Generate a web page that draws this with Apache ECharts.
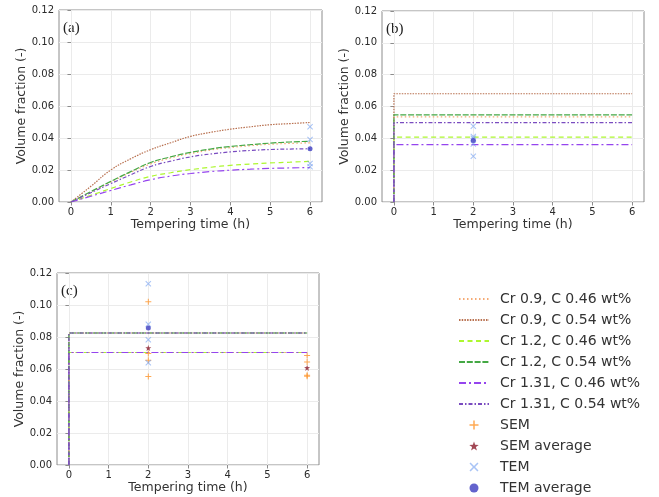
<!DOCTYPE html>
<html>
<head>
<meta charset="utf-8">
<script src="https://cdn.jsdelivr.net/npm/echarts@6/dist/echarts.min.js"></script>
<style>
    html, body { margin: 0; padding: 0; background: #fff; }
    #main { width: 659px; height: 497px; }
</style>
</head>
<body>
<div id="main"></div>
<script>
// names of the six alloys, legend order
let alloyNames = ['Cr 0.9, C 0.46 wt%', 'Cr 0.9, C 0.54 wt%', 'Cr 1.2, C 0.46 wt%',
    'Cr 1.2, C 0.54 wt%', 'Cr 1.31, C 0.46 wt%', 'Cr 1.31, C 0.54 wt%'];
let markerNames = ['SEM', 'SEM average', 'TEM', 'TEM average'];

// (a) curves, read every 0.5 h
let timeA = [0, 0.5, 1, 1.5, 2, 2.5, 3, 3.5, 4, 4.5, 5, 5.5, 6];
let cr09c046A = [0, 0.0062, 0.0125, 0.0185, 0.0238, 0.0275, 0.0302, 0.0325, 0.034, 0.0352, 0.0361, 0.0366, 0.037];
let cr09c054A = [0, 0.0098, 0.0200, 0.0270, 0.0327, 0.0370, 0.0410, 0.0435, 0.0455, 0.0470, 0.0483, 0.0490, 0.0497];
let cr12c046A = [0, 0.0042, 0.0084, 0.0125, 0.0160, 0.0183, 0.0202, 0.0217, 0.0229, 0.0237, 0.0244, 0.0249, 0.0254];
let cr12c054A = [0, 0.0065, 0.0129, 0.0190, 0.0247, 0.0282, 0.0310, 0.0331, 0.0347, 0.0358, 0.0368, 0.0375, 0.0380];
let cr131c046A = [0, 0.0036, 0.0072, 0.0107, 0.0139, 0.0162, 0.0178, 0.0190, 0.0199, 0.0205, 0.0210, 0.0213, 0.0215];
let cr131c054A = [0, 0.0058, 0.0115, 0.0170, 0.0222, 0.0255, 0.0282, 0.0300, 0.0313, 0.0322, 0.0328, 0.0331, 0.0333];

// (b) and (c) constant levels, same order as alloyNames
let levelsB = [0.0535, 0.0680, 0.0407, 0.0548, 0.0361, 0.0499];
let levelsC = [0.0703, 0.0825, 0.0703, 0.0825, 0.0703, 0.0825];

// measured points [time, fraction]
let temA = [[6, 0.047], [6, 0.039], [6, 0.024], [6, 0.022]];
let temAvgA = [[6, 0.0333]];
let temB = [[2, 0.0476], [2, 0.0411], [2, 0.0400], [2, 0.0365], [2, 0.0287]];
let temAvgB = [[2, 0.0386]];
let semC = [[2, 0.102], [2, 0.0697], [2, 0.0655], [2, 0.0553], [6, 0.0685], [6, 0.0643], [6, 0.0561], [6, 0.0555]];
let semAvgC = [[2, 0.0731], [6, 0.0607]];
let temC = [[2, 0.1133], [2, 0.088], [2, 0.0783], [2, 0.0639]];
let temAvgC = [[2, 0.0856]];

let xTicks = [0, 1, 2, 3, 4, 5, 6];
let panelLabels = ['(a)', '(b)', '(c)'];

let lineColors = ['#f5aa74', '#b8704f', '#adf72f', '#44a844', '#9544ee', '#7a4cc0'];
let lineDash = [[1.5, 2.5], [1.5, 1.2], [5, 3.5], [6, 1.8], [7, 3, 2, 3], [4, 2, 1.5, 2]];

let plusPath = 'path://M-1,-6H1V-1H6V1H1V6H-1V1H-6V-1H-1Z';
let crossPath = 'path://M-5.3,-4L-4,-5.3L0,-1.3L4,-5.3L5.3,-4L1.3,0L5.3,4L4,5.3L0,1.3L-4,5.3L-5.3,4L-1.3,0Z';
let starPath = 'path://M0,-10L2.35,-3.24L9.51,-3.09L3.8,1.24L5.88,8.09L0,4L-5.88,8.09L-3.8,1.24L-9.51,-3.09L-2.35,-3.24Z';

let grids = [
    {left: 59, top: 10, width: 263, height: 192},
    {left: 382, top: 11, width: 262, height: 191},
    {left: 57, top: 273, width: 262, height: 192}
];

let chart = echarts.init(document.getElementById('main'));

let xAxes = [], yAxes = [], series = [], graphics = [];
grids.forEach(function (g, i) {
    g.show = true;
    g.borderColor = '#8c8c8c';
    g.borderWidth = 1;
    g.backgroundColor = 'transparent';
    xAxes.push({
        type: 'value', gridIndex: i, min: -0.3, max: 6.3,
        name: 'Tempering time (h)', nameLocation: 'middle', nameGap: 15,
        nameTextStyle: {fontFamily: 'DejaVu Sans', fontSize: 12.5, color: '#333'},
        axisLine: {show: false},
        axisTick: {show: true, length: 3.5, customValues: xTicks, lineStyle: {color: '#8c8c8c'}},
        axisLabel: {customValues: xTicks, margin: 5, fontFamily: 'DejaVu Sans', fontSize: 10, color: '#2a2a2a'},
        splitLine: {show: true, lineStyle: {color: '#ebebeb', width: 1}}
    });
    yAxes.push({
        type: 'value', gridIndex: i, min: 0, max: 0.12, interval: 0.02,
        name: 'Volume fraction (-)', nameLocation: 'middle', nameGap: 30,
        nameTextStyle: {fontFamily: 'DejaVu Sans', fontSize: 12.5, color: '#333'},
        axisLine: {show: false},
        axisTick: {show: true, length: 3.5, lineStyle: {color: '#8c8c8c'}},
        axisLabel: {margin: 5, fontFamily: 'DejaVu Sans', fontSize: 10, color: '#2a2a2a',
            formatter: function (v) { return v.toFixed(2); }},
        splitLine: {show: true, lineStyle: {color: '#ebebeb', width: 1}}
    });
    graphics.push({
        type: 'text', left: g.left + 4, top: g.top + 11,
        style: {text: panelLabels[i], font: '15px "Liberation Serif"', fill: '#222'}
    });
});

let curvesA = [cr09c046A, cr09c054A, cr12c046A, cr12c054A, cr131c046A, cr131c054A];

function lineSeries(name, k, panel, data, smooth) {
    return {
        name: name, type: 'line', xAxisIndex: panel, yAxisIndex: panel,
        data: data, smooth: smooth, symbol: 'none', animation: false,
        lineStyle: {color: lineColors[k], width: 1.2, type: lineDash[k]},
        itemStyle: {color: lineColors[k]},
        z: 3
    };
}

alloyNames.forEach(function (name, k) {
    let dataA = timeA.map(function (t, j) { return [t, curvesA[k][j]]; });
    series.push(lineSeries(name, k, 0, dataA, true));
    series.push(lineSeries(name, k, 1, [[0, 0], [0, levelsB[k]], [6, levelsB[k]]], false));
    series.push(lineSeries(name, k, 2, [[0, 0], [0, levelsC[k]], [6, levelsC[k]]], false));
});

function pointSeries(name, panel, data) {
    let s = {name: name, type: 'scatter', xAxisIndex: panel, yAxisIndex: panel, data: data, animation: false, z: 4};
    if (name == 'SEM') {
        s.symbol = plusPath; s.symbolSize = 6;
        s.itemStyle = {color: '#ff8c1a', opacity: 0.75};
    } else if (name == 'SEM average') {
        s.symbol = starPath; s.symbolSize = 6;
        s.itemStyle = {color: '#8b1a2a'};
    } else if (name == 'TEM') {
        s.symbol = crossPath; s.symbolSize = 6;
        s.itemStyle = {color: '#6f9cf0', opacity: 0.6};
    } else {
        s.symbol = 'circle'; s.symbolSize = 5;
        s.itemStyle = {color: '#3c3cc0'};
    }
    return s;
}

series.push(pointSeries('SEM', 2, semC));
series.push(pointSeries('SEM average', 2, semAvgC));
series.push(pointSeries('TEM', 0, temA));
series.push(pointSeries('TEM average', 0, temAvgA));
series.push(pointSeries('TEM', 1, temB));
series.push(pointSeries('TEM average', 1, temAvgB));
series.push(pointSeries('TEM', 2, temC));
series.push(pointSeries('TEM average', 2, temAvgC));

// line entries without the middle symbol
let legendData = alloyNames.map(function (n) {
    return {name: n, itemStyle: {opacity: 0}};
}).concat(markerNames.map(function (n) {
    return {name: n};
}));

let option = {
    backgroundColor: '#fff',
    animation: false,
    grid: grids,
    xAxis: xAxes,
    yAxis: yAxes,
    graphic: graphics,
    legend: {
        orient: 'vertical', left: 453, top: 286, height: 240,
        itemWidth: 30, itemHeight: 9, itemGap: 5,
        selectedMode: false,
        data: legendData,
        lineStyle: {width: 2},
        textStyle: {fontFamily: 'DejaVu Sans', fontSize: 14, color: '#333', lineHeight: 16, padding: [0, 0, 0, 6]}
    },
    series: series
};

chart.setOption(option);
</script>
</body>
</html>
